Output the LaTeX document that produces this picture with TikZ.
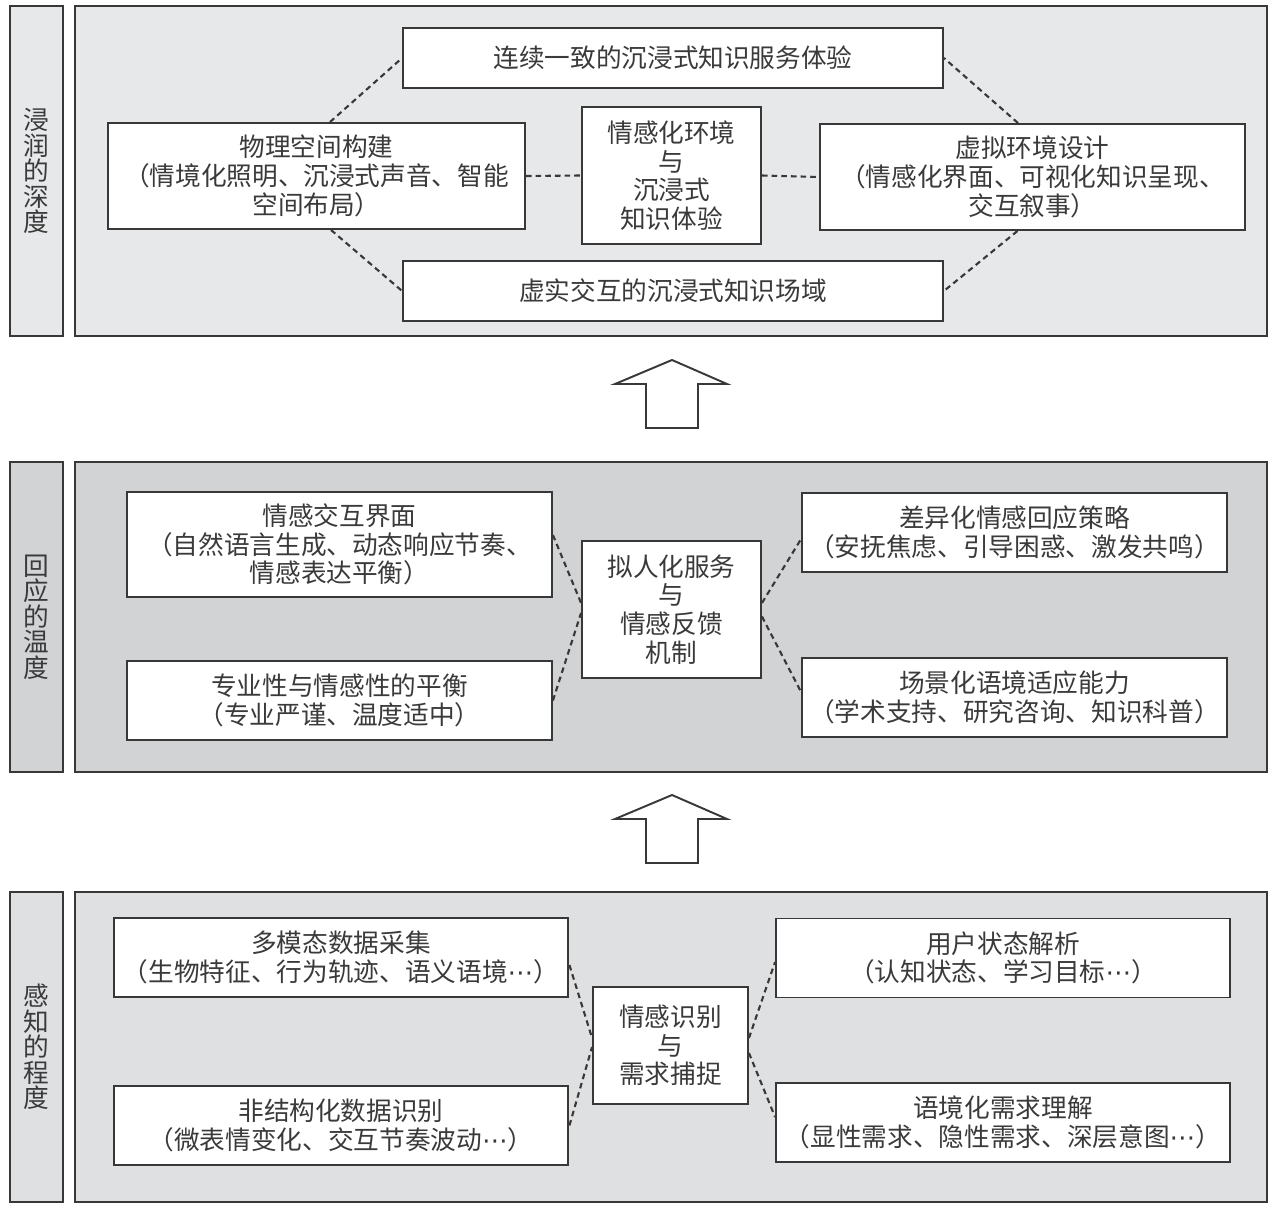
\documentclass[tikz,border=0pt]{standalone}
\usepackage{fontspec}
\setmainfont{Noto Sans CJK SC}
\newfontfamily\dotsfont{DejaVu Sans}
\newcommand{\midellip}{{\dotsfont ⋯}}
\usepackage{xcolor}
\usepackage{tikz}
\usetikzlibrary{positioning}

\definecolor{linegray}{HTML}{383838}
\definecolor{txtgray}{HTML}{3A3A3A}
\definecolor{depthfill}{HTML}{E7E8EA}
\definecolor{warmfill}{HTML}{D2D3D5}
\definecolor{sensefill}{HTML}{DFE0E2}

\begin{document}
\begin{tikzpicture}[
    x=0.02cm, y=-0.02cm,
    every node/.style={font=\fontsize{14.6}{16.3}\selectfont, text=txtgray},
    panel/.style={draw=linegray, line width=1.1pt, inner sep=0pt,
                  minimum width=23.84cm, minimum height=#1},
    sidebox/.style={draw=linegray, line width=1.1pt, inner sep=0pt,
                    minimum width=1.06cm, minimum height=#1, align=center,
                    font={\fontsize{14.6}{14.5}\selectfont\lineskiplimit=-5pt\relax}},
    box/.style 2 args={draw=linegray, fill=white, line width=1.1pt, inner sep=0pt,
                       minimum width=#1, minimum height=#2, align=center},
    link/.style={draw=linegray, line width=1.2pt, dash pattern=on 3.2pt off 2.3pt},
    uparrow/.style={draw=linegray, fill=white, line width=1.1pt},
]
    \useasboundingbox (0,0) rectangle (1269,1221);

    % Top layer
    \node[sidebox=6.6cm, fill=depthfill] (L1) at (36.5,171) {浸\\润\\的\\深\\度};
    \node[panel=6.6cm, fill=depthfill]   (P1) at (671,171) {};

    \node[box={10.8cm}{1.2cm}]   (A1) at (673,58)    {连续一致的沉浸式知识服务体验};
    \node[box={10.8cm}{1.2cm}]   (A2) at (673,291)   {虚实交互的沉浸式知识场域};
    \node[box={8.34cm}{2.12cm}]  (A3) at (316.5,176) {物理空间构建\\（情境化照明、沉浸式声音、智能\\空间布局）};
    \node[box={3.58cm}{2.74cm}]  (C1) at (671.5,175.5) {情感化环境\\与\\沉浸式\\知识体验};
    \node[box={8.5cm}{2.12cm}]   (A4) at (1032.5,177) {虚拟环境设计\\（情感化界面、可视化知识呈现、\\交互叙事）};

    \draw[link] ([xshift=0.27cm]A3.north) -- (A1.west);
    \draw[link] ([xshift=0.29cm]A3.south) -- (A2.west);
    \draw[link] ([xshift=-0.29cm]A4.north) -- (A1.east);
    \draw[link] ([xshift=-0.3cm]A4.south) -- (A2.east);
    \draw[link] (A3.east) -- (C1.west);
    \draw[link] (C1.east) -- (A4.west);

    % Arrows between layers
    \draw[uparrow] (672,360) -- (727,384) -- (698,384) -- (698,428) -- (646,428)
                   -- (646,384) -- (615,384) -- cycle;
    \draw[uparrow] (672,795) -- (727,819) -- (698,819) -- (698,863) -- (646,863)
                   -- (646,819) -- (615,819) -- cycle;

    % Middle layer
    \node[sidebox=6.2cm, fill=warmfill] (L2) at (36.5,617) {回\\应\\的\\温\\度};
    \node[panel=6.2cm, fill=warmfill]   (P2) at (671,617) {};

    \node[box={8.5cm}{2.1cm}]    (B1) at (339.5,544.5) {情感交互界面\\（自然语言生成、动态响应节奏、\\情感表达平衡）};
    \node[box={8.5cm}{1.58cm}]   (B2) at (339.5,700.5) {专业性与情感性的平衡\\（专业严谨、温度适中）};
    \node[box={3.58cm}{2.74cm}]  (C2) at (671.5,609.5) {拟人化服务\\与\\情感反馈\\机制};
    \node[box={8.5cm}{1.58cm}]   (B3) at (1014.5,532.5) {差异化情感回应策略\\（安抚焦虑、引导困惑、激发共鸣）};
    \node[box={8.5cm}{1.58cm}]   (B4) at (1014.5,697.5) {场景化语境适应能力\\（学术支持、研究咨询、知识科普）};

    \draw[link] ([yshift=0.19cm]B1.east) -- ([yshift=0.13cm]C2.west);
    \draw[link] (B2.east) -- ([yshift=-0.07cm]C2.west);
    \draw[link] ([yshift=0.13cm]C2.east) -- ([yshift=-0.13cm]B3.west);
    \draw[link] ([yshift=-0.14cm]C2.east) -- ([yshift=0.11cm]B4.west);

    % Bottom layer
    \node[sidebox=6.2cm, fill=sensefill] (L3) at (36.5,1047) {感\\知\\的\\程\\度};
    \node[panel=6.2cm, fill=sensefill]   (P3) at (671,1047) {};

    \node[box={9.1cm}{1.58cm}]   (D1) at (341,957.5)  {多模态数据采集\\（生物特征、行为轨迹、语义语境\midellip）};
    \node[box={9.1cm}{1.58cm}]   (D2) at (341,1125.5) {非结构化数据识别\\（微表情变化、交互节奏波动\midellip）};
    \node[box={3.1cm}{2.34cm}]   (C3) at (670.5,1045.5) {情感识别\\与\\需求捕捉};
    \node[box={9.08cm}{1.58cm}]  (D3) at (1003,958)   {用户状态解析\\（认知状态、学习目标\midellip）};
    \node[box={9.08cm}{1.58cm}]  (D4) at (1003,1122.5) {语境化需求理解\\（显性需求、隐性需求、深层意图\midellip）};

    \draw[link] ([yshift=-0.15cm]D1.east) -- ([yshift=0.15cm]C3.west);
    \draw[link] (D2.east) -- ([yshift=-0.03cm]C3.west);
    \draw[link] ([yshift=0.15cm]C3.east) -- ([yshift=-0.08cm]D3.west);
    \draw[link] ([yshift=-0.15cm]C3.east) -- ([yshift=0.11cm]D4.west);
\end{tikzpicture}
\end{document}
